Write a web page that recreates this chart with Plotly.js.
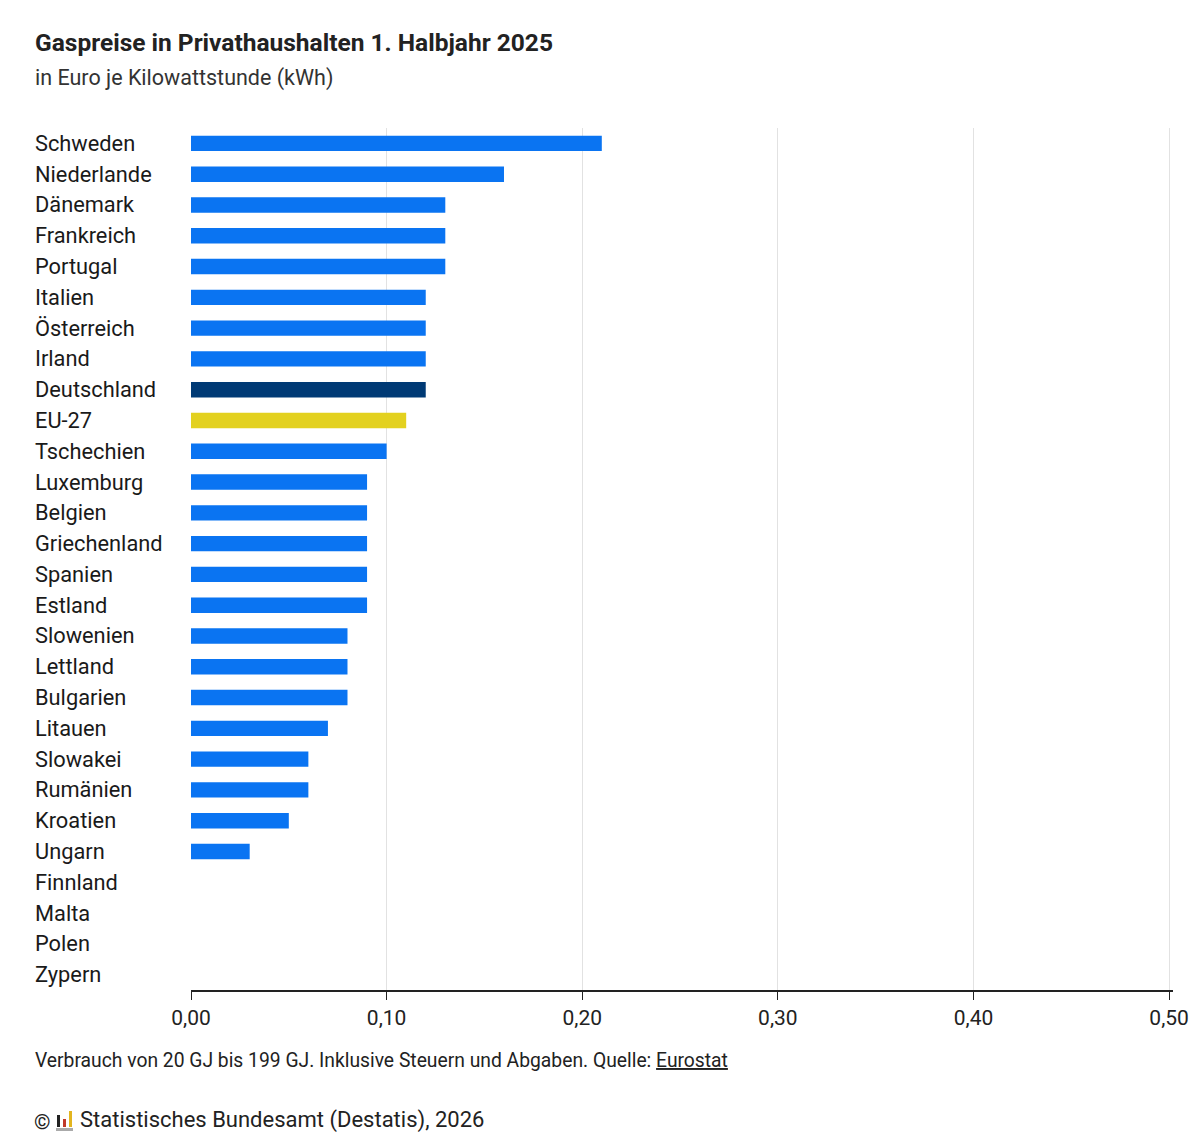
<!DOCTYPE html>
<html>
<head>
<meta charset="utf-8">
<script src="https://cdn.plot.ly/plotly-3.0.1.min.js"></script>
<style>body{margin:0;background:#fff}</style>
</head>
<body>
<div id="chart" style="width:1200px;height:1144px"></div>
<script>
var countries = ['Schweden','Niederlande','Dänemark','Frankreich','Portugal','Italien','Österreich','Irland','Deutschland','EU-27','Tschechien','Luxemburg','Belgien','Griechenland','Spanien','Estland','Slowenien','Lettland','Bulgarien','Litauen','Slowakei','Rumänien','Kroatien','Ungarn','Finnland','Malta','Polen','Zypern'];
var prices = [0.21,0.16,0.13,0.13,0.13,0.12,0.12,0.12,0.12,0.11,0.10,0.09,0.09,0.09,0.09,0.09,0.08,0.08,0.08,0.07,0.06,0.06,0.05,0.03,null,null,null,null];
var xTicks = [0,0.1,0.2,0.3,0.4,0.5];
var xTickText = ['0,00','0,10','0,20','0,30','0,40','0,50'];

var colors = countries.map(function (c) {
    if (c == 'Deutschland') return '#003a75';
    if (c == 'EU-27') return '#e3d11f';
    return '#0a74f2';
});

var W = 1200, H = 1144, L = 191, R = 27, T = 128, B = 154;
var plotW = W - L - R, plotH = H - T - B;
function px(x) { return (x - L) / plotW; }
function py(y) { return (H - B - y) / plotH; }

var annotations = countries.map(function (c) {
    return {text: c, xref: 'paper', x: px(33), xanchor: 'left', yref: 'y', y: c,
        showarrow: false, font: {size: 21.8, color: '#1a1a1a'}};
});
annotations.push(
    {text: '<b>Gaspreise in Privathaushalten 1. Halbjahr 2025</b>', xref: 'paper', yref: 'paper',
     x: px(33), y: py(42), xanchor: 'left', yanchor: 'middle', showarrow: false, font: {size: 24.5, color: '#222'}},
    {text: 'in Euro je Kilowattstunde (kWh)', xref: 'paper', yref: 'paper',
     x: px(33), y: py(78), xanchor: 'left', yanchor: 'middle', showarrow: false, font: {size: 21.5, color: '#333'}},
    {text: 'Verbrauch von 20 GJ bis 199 GJ. Inklusive Steuern und Abgaben. Quelle: <u>Eurostat</u>', xref: 'paper', yref: 'paper',
     x: px(33), y: py(1060), xanchor: 'left', yanchor: 'middle', showarrow: false, font: {size: 19.3, color: '#222'}},
    {text: '©', xref: 'paper', yref: 'paper',
     x: px(32), y: py(1122), xanchor: 'left', yanchor: 'middle', showarrow: false, font: {size: 21, color: '#222'}},
    {text: 'Statistisches Bundesamt (Destatis), 2026', xref: 'paper', yref: 'paper',
     x: px(78), y: py(1120), xanchor: 'left', yanchor: 'middle', showarrow: false, font: {size: 22, color: '#222'}}
);

// small Destatis logo bars
var logo = [[57,1115,60,1127,'#222'],[63,1119,66,1127,'#c0392b'],[69,1111,72,1127,'#e3b51f'],[56,1128,73,1131,'#aaa']];
var shapes = logo.map(function (s) {
    return {type: 'rect', xref: 'paper', yref: 'paper', x0: px(s[0]), x1: px(s[2]), y0: py(s[3]), y1: py(s[1]),
        fillcolor: s[4], line: {width: 0}};
});

var trace = {
    type: 'bar', orientation: 'h', x: prices, y: countries,
    marker: {color: colors}, hoverinfo: 'x+y'
};

var layout = {
    width: W, height: H,
    margin: {l: L, r: R, t: T, b: B},
    paper_bgcolor: '#fff', plot_bgcolor: '#fff',
    font: {family: 'Roboto, sans-serif', color: '#222'},
    showlegend: false, bargap: 0.5,
    xaxis: {range: [0, 0.502], tickvals: xTicks, ticktext: xTickText, showgrid: true, gridcolor: '#e2e2e2',
        zeroline: false, showline: true, linecolor: '#222', linewidth: 1.5, ticks: 'outside', ticklen: 8,
        tickcolor: '#222', tickfont: {size: 21, color: '#222'}},
    yaxis: {autorange: 'reversed', showticklabels: false, showgrid: false, zeroline: false, showline: false},
    annotations: annotations,
    shapes: shapes
};

Plotly.newPlot('chart', [trace], layout, {displayModeBar: false});
</script>
</body>
</html>
